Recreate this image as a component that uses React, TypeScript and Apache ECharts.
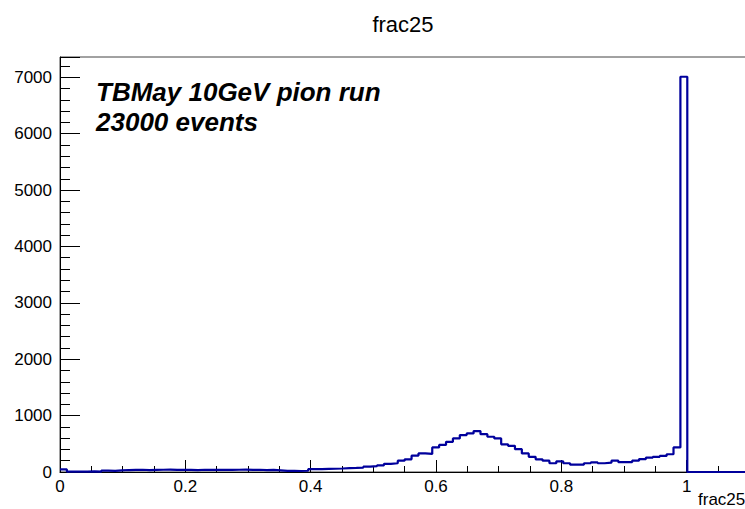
import React, { useEffect, useRef } from "react";
import * as echarts from "echarts";

const binWidth = 0.011;
const xTickLabels = ["0", "0.2", "0.4", "0.6", "0.8", "1"];
const counts = [
  45, 8, 5, 6, 10, 8, 25, 20, 28, 35,
  38, 40, 35, 38, 40, 42, 36, 40, 38, 35,
  40, 38, 36, 40, 38, 40, 42, 38, 40, 35,
  38, 30, 20, 20, 18, 22, 50, 52, 55, 58,
  62, 68, 72, 78, 95, 105, 118, 145, 155, 200,
  225, 290, 330, 320, 435, 480, 535, 595, 655, 685,
  725, 670, 625, 595, 490, 465, 405, 330, 270, 225,
  200, 155, 190, 155, 130, 130, 155, 170, 155, 165,
  200, 175, 175, 200, 230, 255, 270, 285, 315, 435,
  7010, 0, 0, 0, 0, 0, 0, 0, 0, 0,
];
const titleText = "frac25";
const axisTitle = "frac25";
const noteLines = ["TBMay 10GeV pion run", "23000 events"];

const FONT = "'Liberation Sans', Arial, Helvetica, sans-serif";

export default function App() {
  const ref = useRef<HTMLDivElement>(null);
  useEffect(() => {
    if (!ref.current) return;
    const chart = echarts.init(ref.current, null, { renderer: "svg" });
    const data: [number, number][] = counts.map((c, i) => [
      +(i * binWidth).toFixed(4),
      c,
    ]);
    data.push([+(counts.length * binWidth).toFixed(4), 0]);
    chart.setOption({
      animation: false,
      backgroundColor: "#ffffff",
      grid: {
        left: 60,
        top: 57,
        width: 752,
        height: 415,
        show: true,
        borderColor: "#444",
        borderWidth: 1,
        backgroundColor: "transparent",
      },
      xAxis: {
        type: "value",
        min: 0,
        max: 1.2,
        interval: 0.2,
        axisLine: { show: true, onZero: false, lineStyle: { color: "#000", width: 1 } },
        axisTick: { show: true, inside: true, length: 12, lineStyle: { color: "#000" } },
        minorTick: { show: true, splitNumber: 4, length: 6, lineStyle: { color: "#000" } },
        splitLine: { show: false },
        minorSplitLine: { show: false },
        axisLabel: {
          margin: 6,
          color: "#000",
          fontFamily: FONT,
          fontSize: 17,
          showMaxLabel: false,
          formatter: (v: number) => {
            const idx = Math.round(v / 0.2);
            return xTickLabels[idx] ?? "";
          },
        },
      },
      yAxis: {
        type: "value",
        min: 0,
        max: 7360,
        interval: 1000,
        axisLine: { show: true, lineStyle: { color: "#000", width: 1 } },
        axisTick: { show: true, inside: true, length: 20, lineStyle: { color: "#000" } },
        minorTick: { show: true, splitNumber: 5, length: 10, lineStyle: { color: "#000" } },
        splitLine: { show: false },
        minorSplitLine: { show: false },
        axisLabel: {
          margin: 8,
          color: "#000",
          fontFamily: FONT,
          fontSize: 17,
          showMaxLabel: false,
          formatter: (v: number) => String(v),
        },
      },
      series: [
        {
          type: "line",
          step: "end",
          data,
          symbol: "none",
          lineStyle: { color: "#00009c", width: 2.2 },
          z: 3,
        },
      ],
      graphic: [
        {
          type: "text",
          x: 403,
          y: 24,
          style: {
            text: titleText,
            fill: "#000",
            font: `22px ${FONT}`,
            align: "center",
            verticalAlign: "middle",
          },
        },
        {
          type: "text",
          x: 698,
          y: 491,
          style: {
            text: axisTitle,
            fill: "#000",
            font: `17px ${FONT}`,
          },
        },
        {
          type: "text",
          x: 96,
          y: 91.7,
          style: {
            text: noteLines[0],
            fill: "#000",
            font: `italic bold 26px ${FONT}`,
            verticalAlign: "middle",
          },
        },
        {
          type: "text",
          x: 96,
          y: 122,
          style: {
            text: noteLines[1],
            fill: "#000",
            font: `italic bold 26px ${FONT}`,
            verticalAlign: "middle",
          },
        },
      ],
    });
    return () => chart.dispose();
  }, []);
  return (
    <div
      style={{
        position: "absolute",
        left: 0,
        top: 0,
        width: 745,
        height: 509,
        overflow: "hidden",
      }}
    >
      <div ref={ref} style={{ width: 830, height: 509 }} />
    </div>
  );
}
